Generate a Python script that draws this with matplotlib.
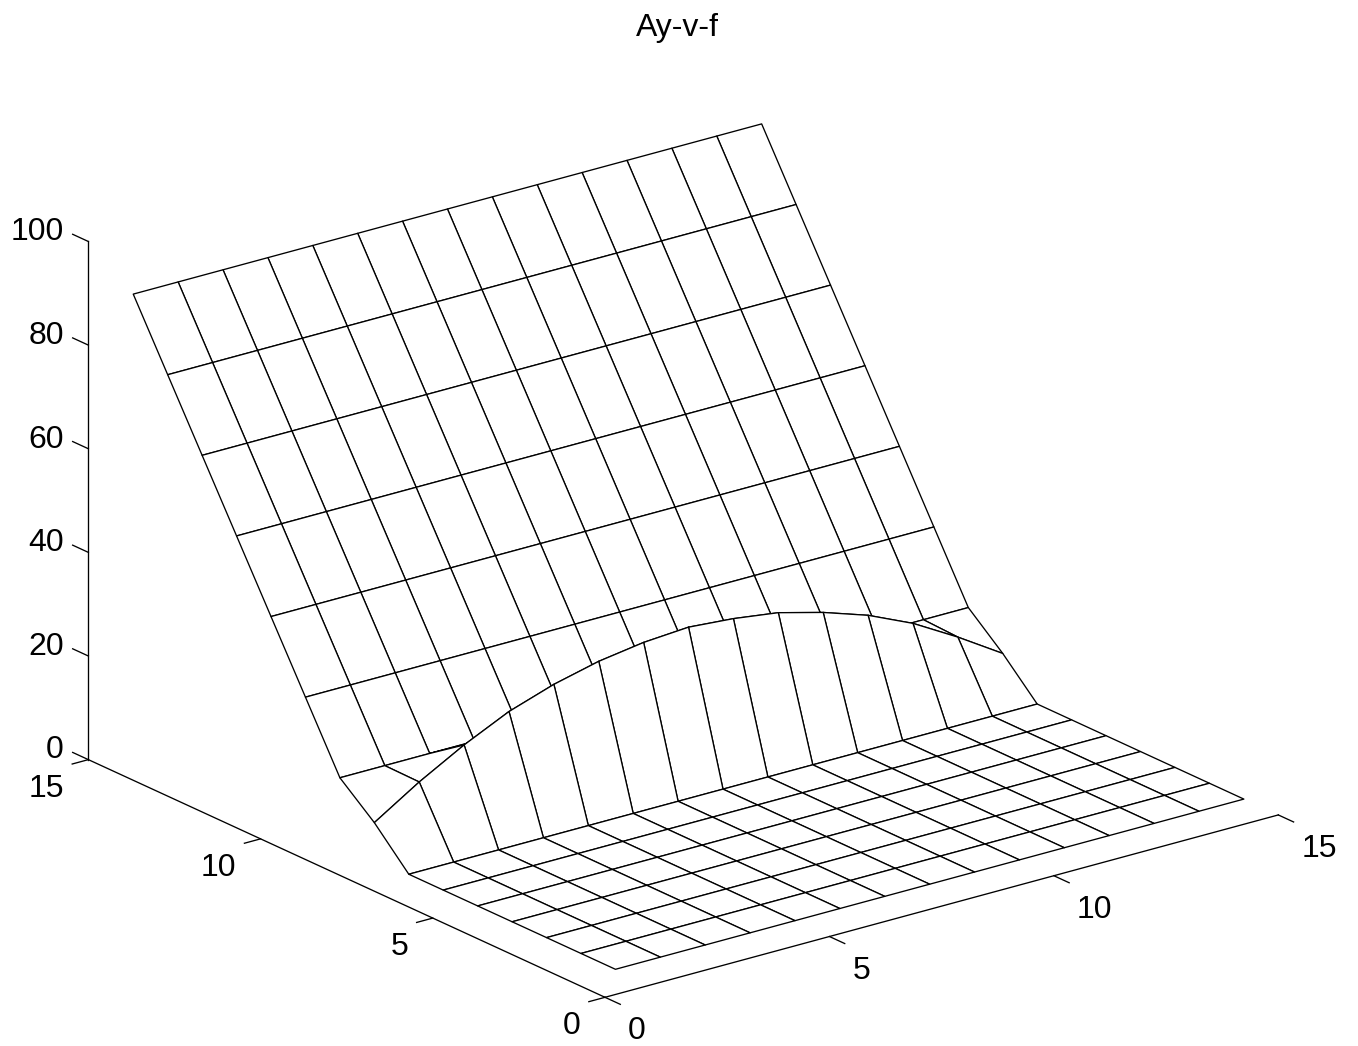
#! /usr/bin/env python3
import matplotlib
matplotlib.use('Agg')
import matplotlib.pyplot as plt
import numpy as np
from mpl_toolkits.mplot3d import proj3d

plt.rcParams['font.family'] = ['Liberation Sans', 'DejaVu Sans']

W, H = 1358, 1046
SIDE = 1600

x_vals = [1, 2, 3, 4, 5, 6, 7, 8, 9, 10, 11, 12, 13, 14, 15]
y_vals = [1, 2, 3, 4, 5, 6, 7, 8, 9, 10, 11, 12, 13, 14, 15]

floor = [0] * 15
ridge = [6.9, 12.4, 17.2, 21.3, 24.2, 26.3, 27.6, 28.2, 27.5, 26.3, 24.0, 21.1, 17.2, 12.2, 6.7]
row_9 = [12.5] * 15
row_10 = [25.0] * 15
row_11 = [37.5] * 15
row_12 = [50.0] * 15
row_13 = [62.5] * 15
row_14 = [75.0] * 15
row_15 = [87.5] * 15
z_rows = [floor, floor, floor, floor, floor, floor, floor, ridge,
          row_9, row_10, row_11, row_12, row_13, row_14, row_15]

ticks_xy = [0, 5, 10, 15]
ticks_z = [0, 20, 40, 60, 80, 100]

fig = plt.figure(figsize=(W / 100, H / 100), dpi=100, facecolor='white')
ax = fig.add_axes([(W / 2 - SIDE / 2) / W, (H / 2 - SIDE / 2) / H, SIDE / W, SIDE / H],
                  projection='3d', proj_type='ortho')
ax.view_init(elev=20.67, azim=-127.5)
ax.patch.set_visible(False)

X, Y = np.meshgrid(x_vals, y_vals)
Z = np.array(z_rows, dtype=float)
ax.plot_surface(X, Y, Z, rstride=1, cstride=1, color='white', edgecolor='black',
                linewidth=0.95, shade=False, antialiased=True)

ax.set_xlim(0, 15, view_margin=0)
ax.set_ylim(0, 15, view_margin=0)
ax.set_zlim(0, 100, view_margin=0)
ax.set_xticks(ticks_xy)
ax.set_yticks(ticks_xy)
ax.set_zticks(ticks_z)
ax.grid(False)

# the reference ticks stick out of the box, z ticks run along y
ax.zaxis._get_tickdir = lambda position: 1
factors = {'x': -0.37, 'y': -0.30, 'z': 0.38}
for name, axis in zip('xyz', (ax.xaxis, ax.yaxis, ax.zaxis)):
    axis.pane.set_visible(False)
    axis.line.set_color('black')
    axis.line.set_linewidth(0.95)
    axis._axinfo['tick']['outward_factor'] = factors[name]
    axis._axinfo['tick']['inward_factor'] = 0.0
    axis._axinfo['tick']['linewidth'] = {True: 0.95, False: 0.5}
    axis._axinfo['tick']['color'] = 'black'
ax.tick_params(axis='both', labelsize=23, colors='black')
ax.tick_params(axis='x', pad=19)
ax.tick_params(axis='y', pad=14)
ax.tick_params(axis='z', pad=4.4)
for t in ax.get_xticklabels():
    t.set_ha('left')
    t.set_va('center')
for t in ax.get_yticklabels():
    t.set_ha('right')
    t.set_va('center_baseline')
for t in ax.get_zticklabels():
    t.set_ha('right')
    t.set_va('baseline')


def to_pixel(px, py, pz):
    u, v, _ = proj3d.proj_transform(px, py, pz, ax.get_proj())
    return ax.transData.transform((u, v))


# scale and shift the box so the axes corners land where the reference has them
aspect = (849, 849, 554)
ax.set_box_aspect(aspect, zoom=1)
span = to_pixel(15, 0, 0)[0] - to_pixel(0, 0, 0)[0]
ax.set_box_aspect(aspect, zoom=673.3 / span)
corner = to_pixel(0, 0, 0)
pos = ax.get_position()
ax.set_position([pos.x0 + (605 - corner[0]) / W, pos.y0 + (H - 997.3 - corner[1]) / H,
                 pos.width, pos.height])

fig.text(677 / W, 1 - 28 / H, 'Ay-v-f', fontsize=23, ha='center', va='center')

fig.savefig('out.png', dpi=100)
